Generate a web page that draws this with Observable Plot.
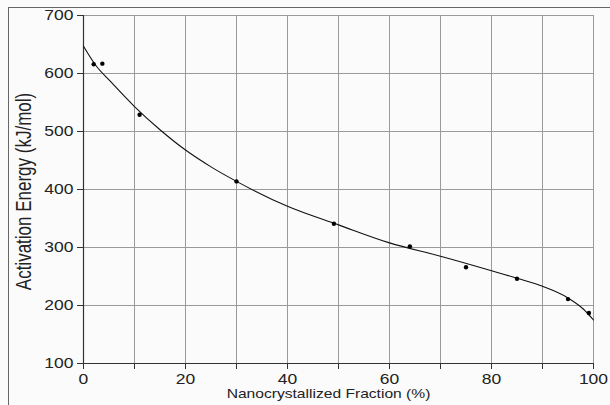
<!DOCTYPE html>
<html>
<head>
<meta charset="utf-8">
<script src="https://cdn.jsdelivr.net/npm/d3@7"></script>
<script src="https://cdn.jsdelivr.net/npm/@observablehq/plot@0.6"></script>
<style>
  html, body { margin: 0; padding: 0; background: #fbfbfb; }
  #wrap { position: relative; width: 610px; height: 405px; overflow: hidden; }
  #outer { position: absolute; left: 8px; top: 7px; width: 610px; height: 410px;
           border-top: 1.5px solid #666; border-left: 1.5px solid #666; pointer-events: none; }
  svg { font-family: "Liberation Sans", Arial, sans-serif; }
</style>
</head>
<body>
<div id="wrap"><div id="outer"></div></div>
<script>
// Measured points
const fraction = [2.0, 3.7, 11.0, 30.0, 49.1, 64.0, 75.0, 85.0, 95.0, 99.1];
const energy   = [616, 617, 529, 414, 341, 302, 266, 246, 211, 187];

// Fitted curve
const curveX = [0, 2.5, 5, 10, 15, 20, 25, 30, 40, 50, 60, 70, 80, 85, 90, 95, 98, 100];
const curveY = [647, 613, 589, 543, 503, 468, 439, 414, 371, 339, 308, 285, 260, 247, 233, 213, 194, 175];

const xTicks = [0, 10, 20, 30, 40, 50, 60, 70, 80, 90, 100];
const yTicks = [100, 200, 300, 400, 500, 600, 700];
const xTitle = "Nanocrystallized Fraction (%)";
const yTitle = "Activation Energy (kJ/mol)";

const points = fraction.map((x, i) => ({x, y: energy[i]}));
const curve = curveX.map((x, i) => ({x, y: curveY[i]}));

const chart = Plot.plot({
  width: 610,
  height: 405,
  marginLeft: 83,
  marginRight: 17,
  marginTop: 15,
  marginBottom: 42,
  style: {background: "transparent", color: "#222", fontSize: "14px", fontFamily: "Liberation Sans, Arial, sans-serif"},
  x: {domain: [0, 100]},
  y: {domain: [100, 700]},
  marks: [
    Plot.gridX(xTicks, {stroke: "#9a9a9a", strokeOpacity: 1}),
    Plot.gridY(yTicks, {stroke: "#9a9a9a", strokeOpacity: 1}),
    Plot.ruleX([0], {stroke: "#333", strokeWidth: 1.2}),
    Plot.ruleY([100], {stroke: "#333", strokeWidth: 1.2}),
    Plot.axisX(xTicks, {
      tickSize: 6, tickPadding: 5, stroke: "#333", fill: "#222",
      tickFormat: d => d % 20 === 0 ? String(d) : "",
      fontSize: 14, label: null
    }),
    Plot.axisY(yTicks, {
      tickSize: 6, tickPadding: 4, stroke: "#333", fill: "#222",
      fontSize: 14, label: null
    }),
    Plot.text([xTitle], {frameAnchor: "bottom", lineAnchor: "top", textAnchor: "middle", dx: -10, dy: 26, fontSize: 12.5, fill: "#222"}),
    Plot.text([yTitle], {frameAnchor: "left", rotate: -90, lineAnchor: "middle", textAnchor: "middle", dx: -59, dy: 2, fontSize: 17, fill: "#222"}),
    Plot.line(curve, {x: "x", y: "y", curve: "monotone-x", stroke: "#111", strokeWidth: 1.1}),
    Plot.dot(points, {x: "x", y: "y", r: 2.2, fill: "#000"})
  ]
});
document.getElementById("wrap").prepend(chart);
chart.style.position = "absolute";
chart.style.left = "0";
chart.style.top = "0";

// the reference's lettering is stretched horizontally
const S = 1.25;
chart.querySelectorAll("text").forEach(t => {
  const bb = t.getBBox();
  const tr = t.getAttribute("transform") || "";
  const m = t.getCTM();
  const rotated = m && Math.abs(m.a) < 0.5;
  if (rotated) {
    const cy = bb.y + bb.height / 2;
    t.setAttribute("transform", `${tr} translate(0,${cy}) scale(1,${S}) translate(0,${-cy})`);
  } else {
    const anchor = getComputedStyle(t).textAnchor;
    const ax = anchor === "end" ? bb.x + bb.width : anchor === "start" ? bb.x : bb.x + bb.width / 2;
    t.setAttribute("transform", `${tr} translate(${ax},0) scale(${S},1) translate(${-ax},0)`);
  }
});
</script>
</body>
</html>
